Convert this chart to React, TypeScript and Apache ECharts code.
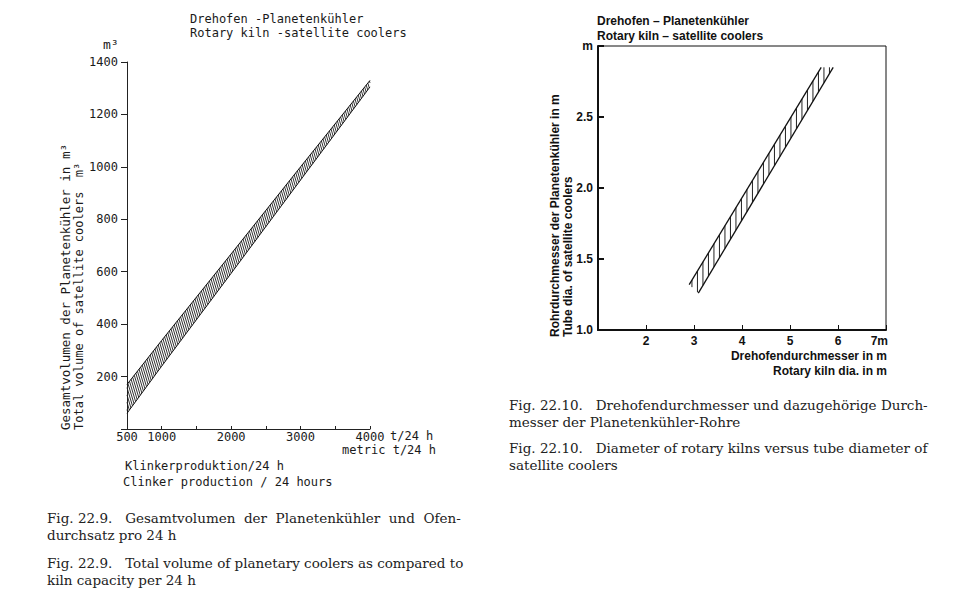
import React, { useEffect, useRef } from "react";
import * as echarts from "echarts";

// ---- Fig. 22.9: total cooler volume vs. clinker production ----
const kilnProduction = [500, 1000, 2000, 3000, 4000]; // t/24 h
const volumeLower = [60, 240, 594, 950, 1305]; // m3
const volumeUpper = [170, 338, 668, 1000, 1330]; // m3
const volumeTicks = [200, 400, 600, 800, 1000, 1200, 1400];
const productionLabels = [500, 1000, 2000, 3000, 4000];

// ---- Fig. 22.10: rotary kiln dia. vs. satellite tube dia. ----
const kilnDiaLeftEdge = [2.9, 5.65]; // m
const tubeDiaLeftEdge = [1.32, 2.85]; // m
const kilnDiaRightEdge = [3.09, 5.9]; // m
const tubeDiaRightEdge = [1.26, 2.85]; // m
const kilnDiaLabels = [2, 3, 4, 5, 6];

const plotFont = "DejaVu Sans Mono";
const boldFont = "Liberation Sans";
const serifFont = "DejaVu Serif";

function hatchLines(api: any, poly: number[][], step: number, slant: number, style: any) {
  const pts = poly.map((p) => api.coord(p));
  const tp = pts.map(([x, y]: number[]) => [x - slant * y, y]);
  const us = tp.map((p: number[]) => p[0]);
  const umin = Math.min(...us);
  const umax = Math.max(...us);
  const children: any[] = [];
  for (let u = umin + step / 2; u < umax; u += step) {
    const ys: number[] = [];
    for (let i = 0; i < tp.length; i++) {
      const [u1, y1] = tp[i];
      const [u2, y2] = tp[(i + 1) % tp.length];
      if ((u1 <= u && u < u2) || (u2 <= u && u < u1)) {
        const t = (u - u1) / (u2 - u1);
        ys.push(y1 + t * (y2 - y1));
      }
    }
    if (ys.length >= 2) {
      const y1 = Math.min(...ys);
      const y2 = Math.max(...ys);
      children.push({
        type: "line",
        shape: { x1: u + slant * y1, y1, x2: u + slant * y2, y2 },
        style,
        silent: true,
      });
    }
  }
  return children;
}

function txt(x: number, y: number, text: string, extra: any = {}) {
  const { style, ...rest } = extra;
  return {
    type: "text",
    x,
    y,
    silent: true,
    ...rest,
    style: {
      text,
      fill: "#1a1a1a",
      fontFamily: plotFont,
      fontSize: 12,
      align: "left",
      verticalAlign: "middle",
      ...(style || {}),
    },
  };
}

export default function App() {
  const ref = useRef<HTMLDivElement>(null);

  useEffect(() => {
    if (!ref.current) return;
    const chart = echarts.init(ref.current, null, { renderer: "svg" });

    const leftPoly = [
      ...kilnProduction.map((x, i) => [x, volumeLower[i]]),
      ...kilnProduction.map((x, i) => [x, volumeUpper[i]]).reverse(),
    ];
    const rightPoly = [
      [kilnDiaLeftEdge[0], tubeDiaLeftEdge[0]],
      [kilnDiaLeftEdge[1], tubeDiaLeftEdge[1]],
      [kilnDiaRightEdge[1], tubeDiaRightEdge[1]],
      [kilnDiaRightEdge[0], tubeDiaRightEdge[0]],
    ];

    const bold = { fontFamily: boldFont, fontWeight: "bold", fontSize: 12, fill: "#111" };
    const serif = { fontFamily: serifFont, fontSize: 13.5, fill: "#222" };

    const option: any = {
      animation: false,
      backgroundColor: "#fff",
      grid: [
        { left: 127, top: 62, width: 243, height: 367, show: false },
        {
          left: 598,
          top: 46,
          width: 288,
          height: 284,
          show: true,
          borderColor: "#111",
          borderWidth: 1,
          backgroundColor: "transparent",
        },
      ],
      xAxis: [
        {
          gridIndex: 0,
          type: "value",
          min: 500,
          max: 4000,
          interval: 500,
          axisLine: { show: true, lineStyle: { color: "#222", width: 1 } },
          axisTick: { show: true, inside: true, length: 3, lineStyle: { color: "#222" } },
          splitLine: { show: false },
          axisLabel: {
            margin: 2,
            color: "#1a1a1a",
            fontFamily: plotFont,
            fontSize: 12,
            formatter: (v: number) => (productionLabels.includes(v) ? String(v) : ""),
          },
        },
        {
          gridIndex: 1,
          type: "value",
          min: 1,
          max: 7,
          interval: 1,
          axisLine: { show: true, lineStyle: { color: "#111", width: 2 } },
          axisTick: { show: true, inside: true, length: 5, lineStyle: { color: "#111", width: 1 } },
          splitLine: { show: false },
          axisLabel: {
            margin: 5,
            color: "#111",
            fontFamily: boldFont,
            fontWeight: "bold",
            fontSize: 12,
            formatter: (v: number) => (kilnDiaLabels.includes(v) ? String(v) : ""),
          },
        },
      ],
      yAxis: [
        {
          gridIndex: 0,
          type: "value",
          min: 0,
          max: 1400,
          interval: 200,
          axisLine: { show: true, lineStyle: { color: "#222", width: 1 } },
          axisTick: { show: true, inside: false, length: 6, lineStyle: { color: "#222" } },
          splitLine: { show: false },
          axisLabel: {
            margin: 9,
            color: "#1a1a1a",
            fontFamily: plotFont,
            fontSize: 12,
            formatter: (v: number) => (volumeTicks.includes(v) ? String(v) : ""),
          },
        },
        {
          gridIndex: 1,
          type: "value",
          min: 1,
          max: 3,
          interval: 0.5,
          axisLine: { show: true, lineStyle: { color: "#111", width: 2 } },
          axisTick: { show: true, inside: true, length: 6, lineStyle: { color: "#111", width: 2 } },
          splitLine: { show: false },
          axisLabel: {
            margin: 5,
            color: "#111",
            fontFamily: boldFont,
            fontWeight: "bold",
            fontSize: 12,
            formatter: (v: number) => (v >= 3 ? "m" : v.toFixed(1)),
          },
        },
      ],
      series: [
        {
          type: "line",
          xAxisIndex: 0,
          yAxisIndex: 0,
          data: kilnProduction.map((x, i) => [x, volumeLower[i]]),
          symbol: "none",
          lineStyle: { color: "#111", width: 1 },
          silent: true,
        },
        {
          type: "line",
          xAxisIndex: 0,
          yAxisIndex: 0,
          data: kilnProduction.map((x, i) => [x, volumeUpper[i]]),
          symbol: "none",
          lineStyle: { color: "#111", width: 1 },
          silent: true,
        },
        {
          type: "custom",
          xAxisIndex: 0,
          yAxisIndex: 0,
          silent: true,
          data: [[kilnProduction[0], volumeLower[0]]],
          renderItem: (params: any, api: any) => ({
            type: "group",
            children: hatchLines(api, leftPoly, 2.2, 0.3, { stroke: "#1a1a1a", lineWidth: 0.9 }),
          }),
        },
        {
          type: "line",
          xAxisIndex: 1,
          yAxisIndex: 1,
          data: kilnDiaLeftEdge.map((x, i) => [x, tubeDiaLeftEdge[i]]),
          symbol: "none",
          lineStyle: { color: "#111", width: 1.3 },
          silent: true,
        },
        {
          type: "line",
          xAxisIndex: 1,
          yAxisIndex: 1,
          data: kilnDiaRightEdge.map((x, i) => [x, tubeDiaRightEdge[i]]),
          symbol: "none",
          lineStyle: { color: "#111", width: 1.3 },
          silent: true,
        },
        {
          type: "custom",
          xAxisIndex: 1,
          yAxisIndex: 1,
          silent: true,
          data: [[kilnDiaLeftEdge[0], tubeDiaLeftEdge[0]]],
          renderItem: (params: any, api: any) => ({
            type: "group",
            children: hatchLines(api, rightPoly, 5.5, 0, { stroke: "#222", lineWidth: 1 }),
          }),
        },
      ],
      graphic: [
        // left chart texts
        txt(190, 19, "Drehofen -Planetenkühler"),
        txt(190, 33, "Rotary kiln -satellite coolers"),
        txt(103, 44, "m³", { style: { fontSize: 13 } }),
        txt(65, 430, "Gesamtvolumen der Planetenkühler in m³", { rotation: Math.PI / 2, style: { fontSize: 12.5 } }),
        txt(79, 430, "Total volume of satellite coolers  m³", { rotation: Math.PI / 2 }),
        txt(390, 436, "t/24 h"),
        txt(436, 450, "metric t/24 h", { style: { align: "right" } }),
        txt(125, 466, "Klinkerproduktion/24 h"),
        txt(123, 482, "Clinker production / 24 hours"),
        // right chart texts
        txt(597, 21, "Drehofen – Planetenkühler", { style: bold }),
        txt(597, 36, "Rotary kiln – satellite coolers", { style: bold }),
        txt(555, 337, "Rohrdurchmesser der Planetenkühler in m", { rotation: Math.PI / 2, style: bold }),
        txt(568, 337, "Tube dia. of satellite coolers", { rotation: Math.PI / 2, style: bold }),
        txt(888, 341, "7m", { style: { ...bold, align: "right" } }),
        txt(887, 356, "Drehofendurchmesser in m", { style: { ...bold, align: "right" } }),
        txt(887, 371, "Rotary kiln dia. in m", { style: { ...bold, align: "right" } }),
        // captions
        txt(47, 518, "Fig. 22.9.   Gesamtvolumen  der  Planetenkühler  und  Ofen-", { style: serif }),
        txt(47, 535, "durchsatz pro 24 h", { style: serif }),
        txt(47, 563, "Fig. 22.9.   Total volume of planetary coolers as compared to", { style: serif }),
        txt(47, 580, "kiln capacity per 24 h", { style: serif }),
        txt(509, 405, "Fig. 22.10.   Drehofendurchmesser und dazugehörige Durch-", { style: serif }),
        txt(509, 422, "messer der Planetenkühler-Rohre", { style: serif }),
        txt(509, 448, "Fig. 22.10.   Diameter of rotary kilns versus tube diameter of", { style: serif }),
        txt(509, 465, "satellite coolers", { style: serif }),
      ],
    };

    chart.setOption(option);
    return () => chart.dispose();
  }, []);

  return (
    <div
      ref={ref}
      style={{ position: "fixed", left: 0, top: 0, width: 960, height: 595, background: "#fff" }}
    />
  );
}
